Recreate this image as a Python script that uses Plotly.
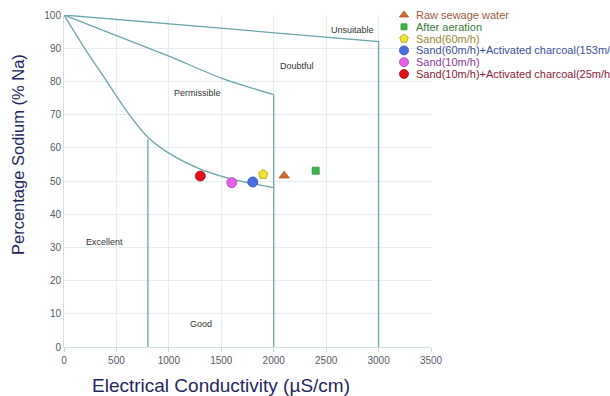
import plotly.graph_objects as go

# Boundary curves of the Wilcox-style diagram (EC in µS/cm, %Na)
unsuit_x = [0, 3000, 3000]
unsuit_y = [100, 92, 0]
doubt_x = [0, 500, 1000, 1500, 2000]
doubt_y = [100, 93.8, 87.6, 81.0, 76]
perm_x = [0, 200, 400, 600, 800, 1000, 1300, 1600, 2000]
perm_y = [100, 89.8, 80.4, 71.0, 63.2, 58.4, 53.6, 50.6, 48]
doubt_edge_x = [2000, 2000]
doubt_edge_y = [76, 0]
good_x = [800, 800]
good_y = [62.6, 0]

# Zone labels
zone_names = ["Unsuitable", "Doubtful", "Permissible", "Excellent", "Good"]
zone_x = [2750, 2220, 1270, 390, 1310]
zone_y = [95.5, 84.6, 76.5, 31.6, 6.8]

# Water samples
samples = ["Raw sewage water", "After aeration", "Sand(60m/h)",
           "Sand(60m/h)+Activated charcoal(153m/h)", "Sand(10m/h)",
           "Sand(10m/h)+Activated charcoal(25m/h)"]
sample_ec = [2100, 2400, 1900, 1800, 1600, 1300]
sample_na = [51.6, 53.1, 52, 49.7, 49.5, 51.5]
marker_symbols = ["triangle-up", "square", "pentagon", "circle", "circle", "circle"]
marker_sizes = [9, 7, 10, 10, 10, 10]
marker_colors = ["#d2692a", "#3cb34a", "#f2e032", "#4a6ee0", "#e560e8", "#e0101c"]
marker_lines = ["#b0502a", "#2f8f3a", "#b0a020", "#3050b0", "#b040c0", "#b00010"]
legend_text_colors = ["#9a5a3a", "#3a7a3a", "#9a8a30", "#3c4f9a", "#8a3a9a", "#8a1a3a"]

line_color = "#6aa5aa"
title_color = "#25265e"
FONT = "Liberation Sans, Arial"

# Plot area in pixels
L, R, T, B = 64, 179, 15, 49
PW, PH = 610 - L - R, 396 - T - B

fig = go.Figure()
for xs, ys, shape in [(unsuit_x, unsuit_y, "linear"), (doubt_x, doubt_y, "spline"),
                      (perm_x, perm_y, "spline"), (doubt_edge_x, doubt_edge_y, "linear"),
                      (good_x, good_y, "linear")]:
    fig.add_trace(go.Scatter(x=xs, y=ys, mode="lines",
                             line=dict(color=line_color, width=1.3, shape=shape, smoothing=0.8),
                             showlegend=False, hoverinfo="skip"))

for i, name in enumerate(samples):
    fig.add_trace(go.Scatter(
        x=[sample_ec[i]], y=[sample_na[i]], mode="markers", name=name, showlegend=False,
        marker=dict(symbol=marker_symbols[i], color=marker_colors[i], size=marker_sizes[i],
                    line=dict(color=marker_lines[i], width=0.8)),
    ))

# Legend keys on a hidden pixel-scaled overlay axis
LEG_X, LEG_TOP, LEG_STEP = 340, PH, 11.8
for i, name in enumerate(samples):
    fig.add_trace(go.Scatter(
        x=[LEG_X], y=[LEG_TOP - i * LEG_STEP], xaxis="x2", yaxis="y2",
        mode="markers", showlegend=False, hoverinfo="skip", cliponaxis=False,
        marker=dict(symbol=marker_symbols[i], color=marker_colors[i],
                    size=marker_sizes[i] - 1, line=dict(color=marker_lines[i], width=0.8)),
    ))
    fig.add_annotation(xref="paper", yref="paper", x=(LEG_X + 10) / PW,
                       y=(LEG_TOP - i * LEG_STEP) / PH, xanchor="left", yanchor="middle",
                       text=name, showarrow=False,
                       font=dict(family=FONT, size=11, color=legend_text_colors[i]))

for n, zx, zy in zip(zone_names, zone_x, zone_y):
    fig.add_annotation(x=zx, y=zy, text=n, showarrow=False,
                       font=dict(family=FONT, size=9, color="#333333"))

# Axis titles
fig.add_annotation(xref="paper", yref="paper", x=(221 - L) / PW, y=-(385 - T - PH) / PH,
                   text="Electrical Conductivity (µS/cm)", showarrow=False,
                   xanchor="center", yanchor="middle",
                   font=dict(family=FONT, size=19, color=title_color))
fig.add_annotation(xref="paper", yref="paper", x=(18 - L) / PW, y=(T + PH - 155) / PH,
                   text="Percentage Sodium (% Na)", showarrow=False, textangle=-90,
                   xanchor="center", yanchor="middle",
                   font=dict(family=FONT, size=16.5, color=title_color))

# White box behind the legend keys
fig.add_shape(type="rect", xref="paper", yref="paper", x0=0.893, x1=1.01, y0=0.806, y1=1.06,
              fillcolor="white", line=dict(width=0), layer="between")

fig.update_layout(
    width=610, height=396,
    margin=dict(l=L, r=R, t=T, b=B, autoexpand=False),
    plot_bgcolor="white", paper_bgcolor="white",
    font=dict(family=FONT),
    showlegend=False,
    xaxis=dict(range=[0, 3500], tickvals=[0, 500, 1000, 1500, 2000, 2500, 3000, 3500],
               showgrid=True, gridcolor="#e3eeee", gridwidth=1,
               showline=True, linecolor="#cfe3e3", zeroline=False,
               ticks="outside", ticklen=4, tickcolor="#c8d8d8",
               tickfont=dict(size=10, color="#555a66")),
    yaxis=dict(range=[0, 100], tickvals=list(range(0, 101, 10)),
               showgrid=True, gridcolor="#e3eeee", gridwidth=1,
               showline=True, linecolor="#cfe3e3", zeroline=False,
               ticks="", tickfont=dict(size=10, color="#555a66")),
    xaxis2=dict(overlaying="x", range=[0, PW], visible=False, fixedrange=True),
    yaxis2=dict(overlaying="y", range=[0, PH], visible=False, fixedrange=True),
)

fig.write_html("out.html")
